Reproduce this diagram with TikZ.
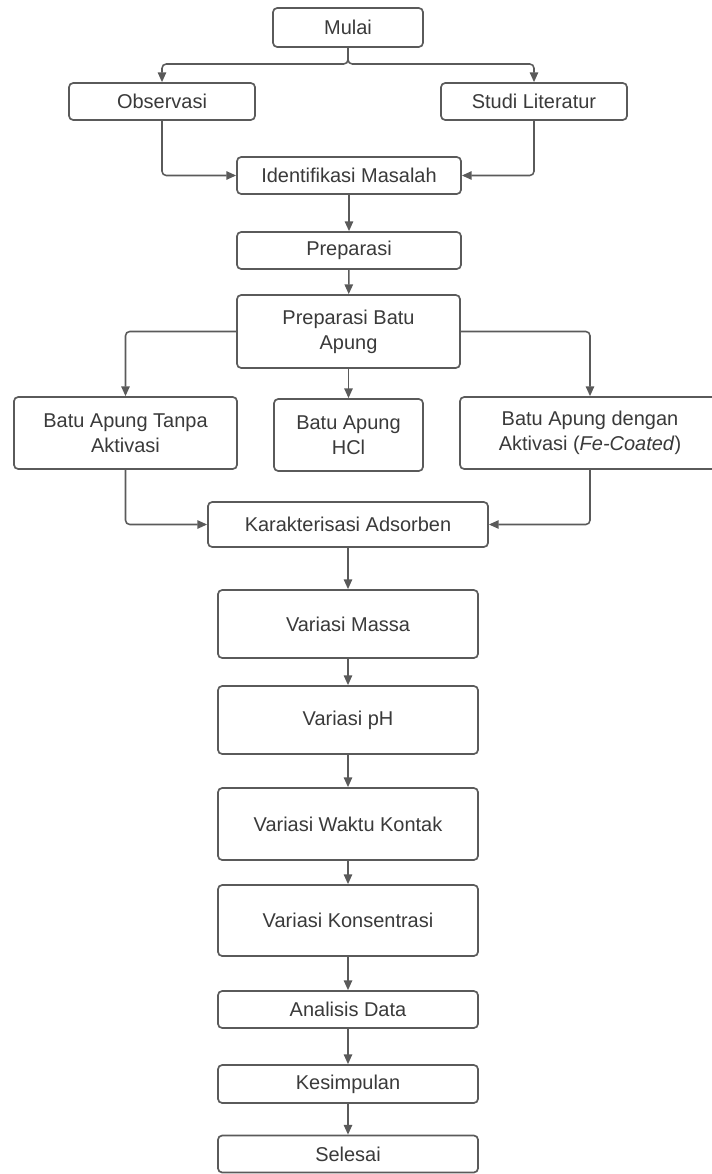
\documentclass[tikz,border=0pt]{standalone}
\usepackage{fontspec}
\setmainfont{Liberation Sans}
\usepackage{tikz}
\usetikzlibrary{arrows.meta,calc,positioning}
\definecolor{linegray}{HTML}{5A5A5A}
\definecolor{textgray}{HTML}{3A3A3A}

\begin{document}
\begin{tikzpicture}[x=0.025cm,y=-0.025cm,
  box/.style={draw=linegray,line width=1.2pt,rounded corners=3pt,fill=white,text=textgray,
    align=center,inner sep=0pt,font=\fontsize{14.2}{17.7}\selectfont},
  arr/.style={draw=linegray,line width=1.1pt,rounded corners=3pt,-{Triangle[length=7pt,width=6pt]}}]
\useasboundingbox (0,0) rectangle (711,1174);
% start and first split
\node[box,minimum width=3.75cm,minimum height=0.975cm] (mulai) at (348,27.5) {Mulai};
\node[box,minimum width=4.65cm,minimum height=0.925cm] (obs) at (162,101.5) {Observasi};
\node[box,minimum width=4.65cm,minimum height=0.925cm] (studi) at (534,101.5) {Studi Literatur};
\node[box,minimum width=5.6cm,minimum height=0.925cm] (ident) at (349,175.5) {Identifikasi Masalah};
\node[box,minimum width=5.6cm,minimum height=0.925cm] (prep) at (349,250.5) {Preparasi};
\node[box,minimum width=5.575cm,minimum height=1.825cm] (pba) at (348.5,331.5) {Preparasi Batu\\Apung};
% three kinds of pumice
\node[box,minimum width=5.575cm,minimum height=1.8cm] (tanpa) at (125.5,433) {Batu Apung Tanpa\\Aktivasi};
\node[box,minimum width=3.725cm,minimum height=1.8cm] (hcl) at (348.5,435) {Batu Apung\\HCl};
\node[box,minimum width=6.5cm,minimum height=1.8cm] (fe) at (590,433) {Batu Apung dengan\\Aktivasi (\textit{Fe-Coated})};
\node[box,minimum width=7cm,minimum height=1.125cm] (kar) at (348,524.5) {Karakterisasi Adsorben};
% variations
\node[box,minimum width=6.5cm,minimum height=1.7cm] (massa) at (348,624) {Variasi Massa};
\node[box,minimum width=6.5cm,minimum height=1.7cm] (ph) at (348,720) {Variasi pH};
\node[box,minimum width=6.5cm,minimum height=1.8cm] (waktu) at (348,824) {Variasi Waktu Kontak};
\node[box,minimum width=6.5cm,minimum height=1.775cm] (kons) at (348,920.5) {Variasi Konsentrasi};
\node[box,minimum width=6.5cm,minimum height=0.925cm] (analisis) at (348,1009.5) {Analisis Data};
\node[box,minimum width=6.5cm,minimum height=0.95cm] (simpul) at (348,1084) {Kesimpulan};
\node[box,minimum width=6.5cm,minimum height=0.925cm] (selesai) at (348,1154) {Selesai};

\coordinate (split) at (348,64);
\draw[arr] (mulai) -- (split) -| (obs);
\draw[arr] (mulai) -- (split) -| (studi);
\draw[arr] (obs) |- (ident);
\draw[arr] (studi) |- (ident);
\draw[arr] (ident) -- (prep);
\draw[arr] (prep) -- (pba);
\draw[arr] (pba) -| (tanpa);
\draw[arr] (pba) -- (hcl);
\draw[arr] (pba) -| (fe);
\draw[arr] (tanpa) |- (kar);
\draw[arr] (fe) |- (kar);
\foreach \a/\b in {kar/massa,massa/ph,ph/waktu,waktu/kons,kons/analisis,analisis/simpul,simpul/selesai}
  \draw[arr] (\a) -- (\b);
\end{tikzpicture}
\end{document}
